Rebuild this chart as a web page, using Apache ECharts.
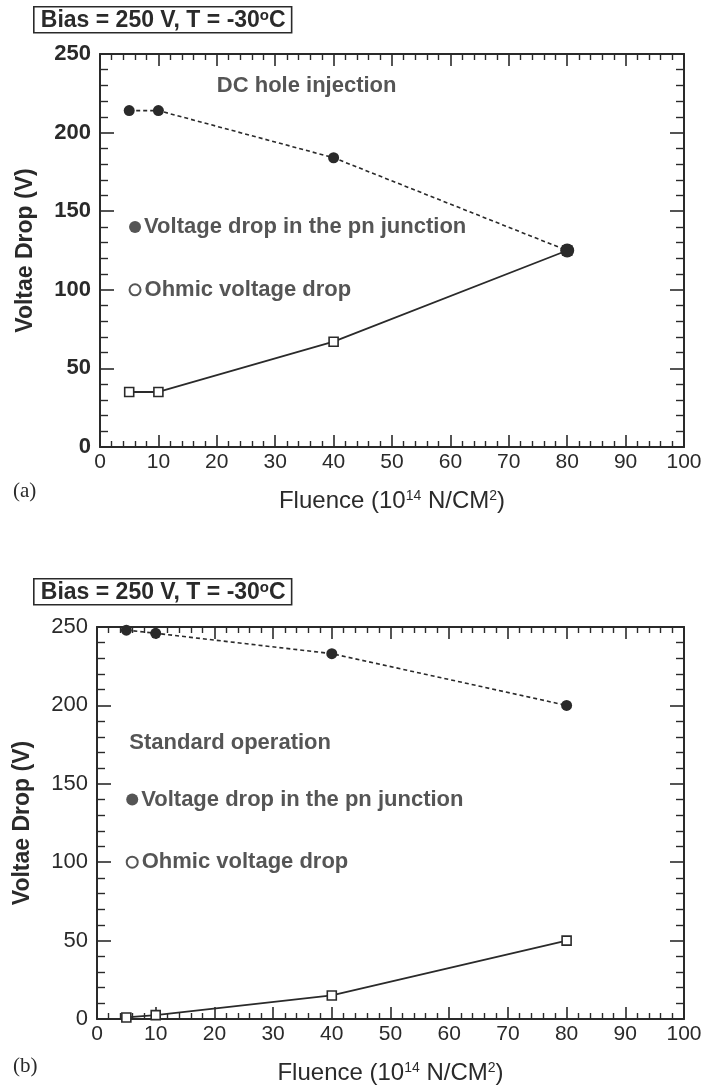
<!DOCTYPE html>
<html>
<head>
<meta charset="utf-8">
<script src="https://cdn.jsdelivr.net/npm/echarts/dist/echarts.min.js"></script>
<style>
html,body{margin:0;padding:0;background:#fff;}
#c{width:706px;height:1088px;}
</style>
</head>
<body>
<div id="c"></div>
<script>
// ---- data ----
const fluence = [5, 10, 40, 80];
const pnA = [214, 214, 184, 125];
const ohmA = [35, 35, 67, 125];
const pnB = [248, 246, 233, 200];
const ohmB = [1, 2.5, 15, 50];
const legendNames = ['Voltage drop in the pn junction', 'Ohmic voltage drop'];
const legendY = [140, 100];
const legendX = 6;
const notesA = ['DC hole injection'];
const notesB = ['Standard operation'];
const xRange = [0, 100, 10];
const yRange = [0, 250, 50];
const biasText = 'Bias = 250 V, T = -30{s|o}C';
const xTitle = 'Fluence (10{s|14} N/CM{s|2})';
const yTitle = 'Voltae Drop (V)';
const panelLabels = ['(a)', '(b)'];

const INK = '#2a2a2a';
const SANS = "'Liberation Sans', Arial, sans-serif";

const chart = echarts.init(document.getElementById('c'), null, {renderer: 'canvas'});

const grids = [
  {left: 100, top: 54, width: 584, height: 393},
  {left: 97, top: 627, width: 587, height: 392}
];

function xAxes(gi) {
  const common = {
    type: 'value', gridIndex: gi, min: xRange[0], max: xRange[1], interval: xRange[2],
    axisLine: {show: true, onZero: false, lineStyle: {color: INK, width: 2}},
    axisTick: {show: true, inside: true, length: 12, lineStyle: {color: INK, width: 1.6}},
    minorTick: {show: true, splitNumber: 5, length: 6, lineStyle: {color: INK, width: 1.4}},
    splitLine: {show: false}
  };
  return [
    Object.assign({}, common, {
      position: 'bottom',
      axisLabel: {show: true, margin: 5, color: INK, fontSize: 21, fontFamily: SANS},
      name: xTitle, nameLocation: 'middle', nameGap: 42,
      nameTextStyle: {color: INK, fontSize: 24, fontFamily: SANS,
        rich: {s: {fontSize: 14, fontFamily: SANS, color: INK, verticalAlign: 'top'}}}
    }),
    Object.assign({}, common, {position: 'top', axisLabel: {show: false}})
  ];
}
function yAxes(gi, bold) {
  const common = {
    type: 'value', gridIndex: gi, min: yRange[0], max: yRange[1], interval: yRange[2],
    axisLine: {show: true, onZero: false, lineStyle: {color: INK, width: 2}},
    axisTick: {show: true, inside: true, length: 14, lineStyle: {color: INK, width: 1.6}},
    minorTick: {show: true, splitNumber: 5, length: 8, lineStyle: {color: INK, width: 1.4}},
    splitLine: {show: false}
  };
  return [
    Object.assign({}, common, {
      position: 'left',
      axisLabel: {show: true, margin: 9, color: INK, fontSize: 22,
        fontWeight: bold ? 'bold' : 'normal', fontFamily: SANS},
      name: yTitle, nameLocation: 'middle', nameGap: 63,
      nameTextStyle: {color: INK, fontSize: 23, fontWeight: 'bold', fontFamily: SANS}
    }),
    Object.assign({}, common, {position: 'right', axisLabel: {show: false}})
  ];
}

function pairs(xs, ys) { return xs.map((x, i) => [x, ys[i]]); }

function panelSeries(gi, pn, ohm, note, noteXY) {
  const xi = gi * 2, yi = gi * 2;
  return [
    {
      type: 'line', xAxisIndex: xi, yAxisIndex: yi, data: pairs(fluence, ohm),
      symbol: 'rect', symbolSize: 9, showSymbol: true,
      lineStyle: {color: INK, width: 1.8, type: 'solid'},
      itemStyle: {color: '#fff', borderColor: INK, borderWidth: 1.6},
      z: 3, animation: false, silent: true
    },
    {
      type: 'line', xAxisIndex: xi, yAxisIndex: yi, data: pairs(fluence, pn),
      symbol: 'circle',
      symbolSize: (v) => (gi === 0 && v[1] === ohm[ohm.length - 1] ? 14 : 11),
      lineStyle: {color: INK, width: 1.6, type: [4, 3]},
      itemStyle: {color: INK, borderColor: INK, borderWidth: 0},
      z: 4, animation: false, silent: true
    },
    {
      type: 'scatter', xAxisIndex: xi, yAxisIndex: yi,
      data: [
        {value: [legendX, legendY[0]], name: legendNames[0], symbol: 'circle', symbolSize: 12,
          itemStyle: {color: INK, borderWidth: 0}},
        {value: [legendX, legendY[1]], name: legendNames[1], symbol: 'circle', symbolSize: 11,
          itemStyle: {color: '#fff', borderColor: INK, borderWidth: 2}}
      ],
      label: {show: true, position: 'right', distance: 3, formatter: p => p.name,
        color: INK, fontSize: 22, fontWeight: 'bold', fontFamily: SANS},
      z: 5, animation: false, silent: true
    },
    {
      type: 'scatter', xAxisIndex: xi, yAxisIndex: yi,
      data: [{value: noteXY, name: note}], symbolSize: 0,
      label: {show: true, position: 'right', distance: 0, formatter: p => p.name,
        color: INK, fontSize: 22, fontWeight: 'bold', fontFamily: SANS},
      z: 5, animation: false, silent: true
    }
  ];
}

function biasBox(top) {
  return {
    type: 'text', left: 33, top: top, z: 10,
    style: {
      text: biasText, fill: INK, fontSize: 23, fontWeight: 'bold', fontFamily: SANS,
      rich: {s: {fontSize: 15, fontWeight: 'bold', fontFamily: SANS, fill: INK, verticalAlign: 'top'}},
      borderColor: INK, borderWidth: 1.6, padding: [2, 6, 1, 7]
    }
  };
}

const option = {
  backgroundColor: '#fff',
  animation: false,
  grid: grids.map(g => Object.assign({containLabel: false}, g)),
  xAxis: [].concat(xAxes(0), xAxes(1)),
  yAxis: [].concat(yAxes(0, true), yAxes(1, false)),
  series: [].concat(
    panelSeries(0, pnA, ohmA, notesA[0], [20, 230]),
    panelSeries(1, pnB, ohmB, notesB[0], [5.5, 176])
  ),
  graphic: [
    biasBox(6),
    biasBox(578),
    {type: 'text', left: 13, top: 481, style: {text: panelLabels[0], fill: INK, fontSize: 21, fontFamily: "'Liberation Serif', serif"}},
    {type: 'text', left: 13, top: 1056, style: {text: panelLabels[1], fill: INK, fontSize: 21, fontFamily: "'Liberation Serif', serif"}}
  ]
};
chart.setOption(option);
</script>
</body>
</html>
